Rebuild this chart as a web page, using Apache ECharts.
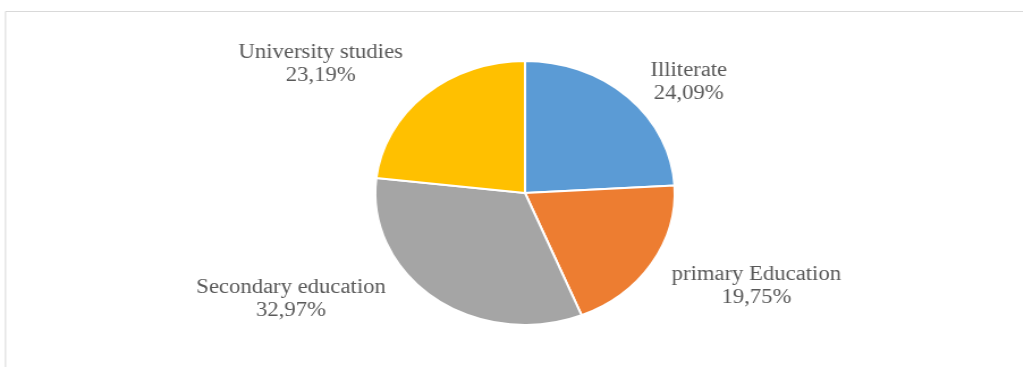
<!DOCTYPE html>
<html>
<head>
<meta charset="utf-8">
<script src="https://cdn.jsdelivr.net/npm/echarts@6/dist/echarts.min.js"></script>
<style>
  html, body { margin: 0; padding: 0; background: #ffffff; overflow: hidden; }
  #wrap { width: 1023px; height: 367px; overflow: hidden; position: relative; }
  /* the pie is drawn slightly wider than tall, so the chart is stretched horizontally */
  #chart { width: 902px; height: 367px; transform: scaleX(1.134); transform-origin: 0 0; }
</style>
</head>
<body>
<div id="wrap"><div id="chart"></div></div>
<script>
// Education level shares (%)
const categories = ['Illiterate', 'primary Education', 'Secondary education', 'University studies'];
const shares = [24.09, 19.75, 32.97, 23.19];
const colors = ['#5B9BD5', '#ED7D31', '#A5A5A5', '#FFC000'];
// label line geometry per slice (lines themselves hidden; they only place the text)
const lineLen = [20, 43, 1, 41];
const lineLen2 = [35, 51, 121, 60];

const chart = echarts.init(document.getElementById('chart'), null, { renderer: 'canvas' });

const data = categories.map((name, i) => ({
  name: name,
  value: shares[i],
  itemStyle: { color: colors[i] },
  labelLine: { show: false, length: lineLen[i], length2: lineLen2[i] }
}));

chart.setOption({
  animation: false,
  backgroundColor: '#ffffff',
  graphic: [{
    type: 'rect',
    shape: { x: 4.85, y: 11.5, width: 2000, height: 1000 },
    style: { fill: 'none', stroke: '#d9d9d9', lineWidth: 1 },
    silent: true
  }],
  series: [{
    type: 'pie',
    center: [463, 193],
    radius: 132,
    startAngle: 90,
    clockwise: true,
    avoidLabelOverlap: false,
    itemStyle: { borderColor: '#ffffff', borderWidth: 2 },
    label: {
      show: true,
      position: 'outside',
      fontFamily: 'Liberation Serif',
      fontSize: 20,
      lineHeight: 23,
      color: '#595959',
      formatter: p => p.name + '\n' + p.value.toFixed(2).replace('.', ',') + '%'
    },
    labelLayout: { align: 'center' },
    data: data
  }]
});
</script>
</body>
</html>
